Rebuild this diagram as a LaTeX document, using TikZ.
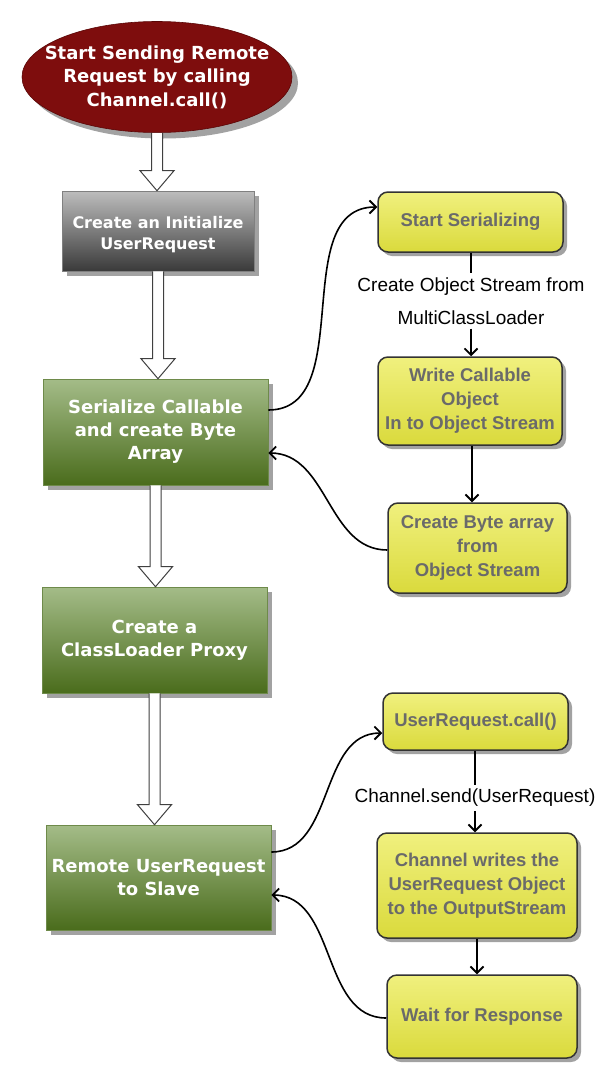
\documentclass[tikz,border=0pt]{standalone}
\usepackage{fontspec}
\usetikzlibrary{arrows.meta,shadows,calc,shapes.geometric}
\newfontfamily\vfont{DejaVu Sans}
\newfontfamily\afont{Liberation Sans}
\definecolor{startred}{HTML}{7E0D0D}
\definecolor{startedge}{HTML}{5A0606}
\definecolor{greenT}{HTML}{A4BC88}
\definecolor{greenB}{HTML}{4A6C1C}
\definecolor{greenE}{HTML}{6E8A4A}
\definecolor{grayT}{HTML}{BDBDBD}
\definecolor{grayB}{HTML}{3A3A3A}
\definecolor{yellowT}{HTML}{F0F07E}
\definecolor{yellowB}{HTML}{DADA3C}
\definecolor{yellowtext}{HTML}{6A6A6A}
\definecolor{shadowgray}{HTML}{A2A2A2}

% hollow block arrow from the bottom of #1 to the top of #2
\newcommand\hollowarrow[2]{%
  \filldraw[hollow] let \p1=(#1.south), \p2=(#2.north) in
    (\x1-5.5pt,\y1) -- (\x1-5.5pt,\y2+20pt) -- (\x1-17pt,\y2+20pt)
    -- (\x1,\y2) -- (\x1+17pt,\y2+20pt) -- (\x1+5.5pt,\y2+20pt)
    -- (\x1+5.5pt,\y1);}

\begin{document}
\begin{tikzpicture}[x=1pt,y=-1pt,
  boxshadow/.style={drop shadow={shadow xshift=5pt,shadow yshift=-5pt,fill=shadowgray,opacity=1}},
  startnode/.style={ellipse,minimum width=270pt,minimum height=111pt,
    inner xsep=-20pt,inner ysep=0pt,
    fill=startred,draw=startedge,line width=0.6pt,
    drop shadow={shadow xshift=6pt,shadow yshift=-6pt,fill=shadowgray,opacity=1},
    text=white,align=center,font=\vfont\bfseries\fontsize{18}{23.5}\selectfont},
  graybox/.style={rectangle,minimum width=192pt,minimum height=80pt,inner sep=0pt,
    top color=grayT,bottom color=grayB,draw=gray,line width=0.6pt,boxshadow,
    text=white,align=center,font=\vfont\bfseries\fontsize{16}{22}\selectfont},
  greenbox/.style={rectangle,minimum width=225pt,minimum height=106pt,inner sep=0pt,
    top color=greenT,bottom color=greenB,draw=greenE,line width=0.6pt,boxshadow,
    text=white,align=center,font=\vfont\bfseries\fontsize{18}{23}\selectfont},
  yellowbox/.style={rectangle,rounded corners=10pt,inner sep=0pt,
    top color=yellowT,bottom color=yellowB,draw=black!80,line width=1.5pt,
    drop shadow={shadow xshift=4pt,shadow yshift=-4pt,fill=shadowgray,opacity=1},
    text=yellowtext,align=center,font=\afont\bfseries\fontsize{18.5}{24}\selectfont},
  steplabel/.style={align=center,inner sep=4pt,font=\afont\fontsize{19}{33}\selectfont},
  hollow/.style={fill=white,draw=black!75,line width=1pt,line join=miter},
  link/.style={line width=1.6pt,draw=black},
  conn/.style={link,-{Straight Barb[length=6.5pt,width=13pt,line width=1.8pt]}},
]
\useasboundingbox[fill=white] (0,0) rectangle (614,1079);

% main column
\node[startnode] (start) at (157,77) {Start Sending Remote\\Request by calling\\Channel.call()};
\node[graybox] (init) at (158,231) {\raisebox{-4pt}[\height][\depth]{\begin{tabular}{@{}c@{}}Create an Initialize\\[-1pt]UserRequest\end{tabular}}};
\node[greenbox] (ser) at (155.5,432) {Serialize Callable\\and create Byte\\Array};
\node[greenbox] (proxy) at (154.5,640) {Create a\\ClassLoader Proxy};
\node[greenbox,minimum height=105pt] (remote) at (158.5,877.5) {Remote UserRequest\\to Slave};

% serialization steps
\node[yellowbox,minimum width=185pt,minimum height=60pt] (s1) at (470.5,222) {Start Serializing};
\node[steplabel] (l1) at (471,301) {Create Object Stream from\\MultiClassLoader};
\node[yellowbox,minimum width=184pt,minimum height=88pt] (s2) at (470,401) {Write Callable\\Object\\In to Object Stream};
\node[yellowbox,minimum width=179pt,minimum height=90pt] (s3) at (477.5,548) {Create Byte array\\from\\Object Stream};

% remote call steps
\node[yellowbox,minimum width=185pt,minimum height=57pt] (r1) at (475.5,721.5) {UserRequest.call()};
\node[steplabel] (l2) at (475,798) {Channel.send(UserRequest)};
\node[yellowbox,minimum width=200pt,minimum height=105pt] (r2) at (477,885.5) {Channel writes the\\UserRequest Object\\to the OutputStream};
\node[yellowbox,minimum width=190pt,minimum height=83pt] (r3) at (482,1016.5) {Wait for Response};

% block arrows down the main column
\hollowarrow{start}{init}
\hollowarrow{init}{ser}
\hollowarrow{ser}{proxy}
\hollowarrow{proxy}{remote}

% serialization flow
\draw[link] (s1.south -| l1) -- (l1.north);
\draw[conn] (l1.south) -- (l1.south |- s2.north);
\draw[conn] ([xshift=2pt]s2.south) -- ([xshift=2pt]s2.south |- s3.north);
\draw[conn] ([yshift=22pt]ser.east) to[out=0,in=180] ([yshift=15pt]s1.west);
\draw[conn] ([yshift=-2pt]s3.west) to[out=180,in=0] ([yshift=-21pt]ser.east);

% remote call flow
\draw[link] (r1.south -| l2) -- (l2.north);
\draw[conn] (l2.south) -- (l2.south |- r2.north);
\draw[conn] (r2.south) -- (r2.south |- r3.north);
\draw[conn] ([yshift=25.5pt]remote.east) to[out=0,in=180] ([yshift=-11.5pt]r1.west);
\draw[conn] ([yshift=-1.5pt]r3.west) to[out=180,in=0] ([yshift=-17.5pt]remote.east);
\end{tikzpicture}
\end{document}
